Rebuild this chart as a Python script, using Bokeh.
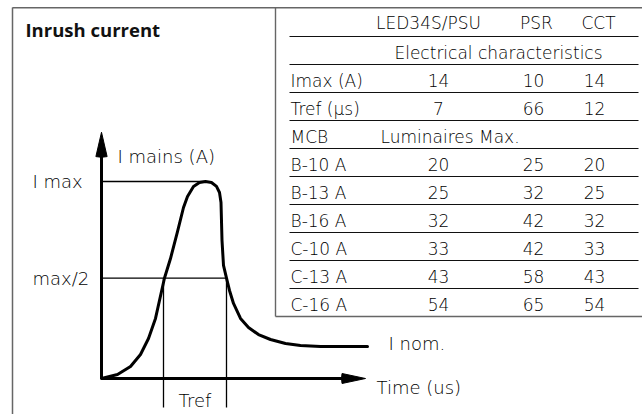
from bokeh.plotting import figure
from bokeh.models import Range1d, ColumnDataSource
from bokeh.core.properties import value
from bokeh.embed import file_html
from bokeh.resources import INLINE

# ---------------- data ----------------
title = "Inrush current"
products = ["LED34S/PSU", "PSR", "CCT"]
section_label = "Electrical characteristics"
imax_label = "Imax (A)"
tref_label = "Tref (µs)"
imax_a = [14, 10, 14]
tref_us = [7, 66, 12]
mcb_header = "MCB"
lum_header = "Luminaires Max."
mcb_types = ["B-10 A", "B-13 A", "B-16 A", "C-10 A", "C-13 A", "C-16 A"]
max_led34s_psu = [20, 25, 32, 33, 43, 54]
max_psr = [25, 32, 42, 42, 58, 65]
max_cct = [20, 25, 32, 33, 43, 54]

# schematic inrush curve (time in arbitrary us units, current relative to I max)
curve_time = [0, 1.6, 2.9, 3.9, 4.7, 5.4, 6.3, 6.9, 7.6, 8.2, 8.6, 9.2, 9.8, 10.4,
              11.0, 11.5, 11.8, 11.95, 12.05, 12.2, 12.5, 12.8, 13.2, 13.9, 14.7,
              15.7, 16.9, 18.4, 19.9, 21.9, 26.6]
curve_current = [0, 0.020, 0.061, 0.122, 0.203, 0.305, 0.51, 0.609, 0.746, 0.868,
                 0.924, 0.975, 0.995, 1.0, 0.995, 0.975, 0.944, 0.893, 0.701, 0.574,
                 0.51, 0.447, 0.381, 0.305, 0.259, 0.223, 0.198, 0.178, 0.168,
                 0.162, 0.162]
i_max_level = 1.0
half_level = 0.51
tref_start = 6.2
tref_end = 12.5
time_axis_end = 26.4
current_axis_end = 1.25

# ---------------- layout ----------------
W, H = 642, 414
ORIGIN_X, ORIGIN_Y = 101, 378
PX_T, PX_I = 10.0, 197.0

p = figure(width=W, height=H, x_range=Range1d(0, W), y_range=Range1d(H, 0),
           output_backend="svg", toolbar_location=None, min_border=0,
           x_axis_type=None, y_axis_type=None)
p.grid.visible = False
p.outline_line_color = None
p.background_fill_color = "white"
p.border_fill_color = "white"

p.extra_x_ranges = {"t": Range1d(-ORIGIN_X / PX_T, (W - ORIGIN_X) / PX_T)}
p.extra_y_ranges = {"i": Range1d((ORIGIN_Y - H) / PX_I, ORIGIN_Y / PX_I)}

TXT = value("'DejaVu Sans Light', 'DejaVu Sans'")
TCOL = "#000000"

# outer frame and table box
p.segment(x0=[12, 12], y0=[7.25, 7], x1=[W, 12], y1=[7.25, H],
          line_color="#666666", line_width=1.5)
p.segment(x0=[275, 275], y0=[7, 316], x1=[275, W], y1=[316, 316],
          line_color="#666666", line_width=1.4)

# table row separators
n_rows = 5 + len(mcb_types)
row_h = 28
first_line = 36
sep_y = [first_line + row_h * k for k in range(n_rows - 1)]
p.segment(x0=[289] * len(sep_y), y0=sep_y, x1=[638] * len(sep_y), y1=sep_y,
          line_color="#111111", line_width=1.2)


def mid(k):
    if k == 0:
        return 22
    return first_line + row_h * k - 12


label_x = 290
head_cx = [428, 536, 598]
val_cx = [438, 533, 594]

tx, ty, tt, ta = [], [], [], []


def add(x, y, t, a):
    tx.append(x); ty.append(y); tt.append(str(t)); ta.append(a)


for c, name in zip(head_cx, products):
    add(c, mid(0), name, "center")
add(498, mid(1), section_label, "center")
add(label_x, mid(2), imax_label, "left")
for c, v in zip(val_cx, imax_a):
    add(c, mid(2), v, "center")
add(label_x, mid(3), tref_label, "left")
for c, v in zip(val_cx, tref_us):
    add(c, mid(3), v, "center")
add(label_x, mid(4), mcb_header, "left")
add(380, mid(4), lum_header, "left")
for r, m in enumerate(mcb_types):
    k = 5 + r
    add(label_x, mid(k), m, "left")
    for c, v in zip(val_cx, [max_led34s_psu[r], max_psr[r], max_cct[r]]):
        add(c, mid(k), v, "center")

src = ColumnDataSource(dict(x=tx, y=ty, text=tt, align=ta))
p.text(x="x", y="y", text="text", text_align="align", source=src,
       text_font=TXT, text_font_size="17px", text_color=TCOL,
       text_baseline="middle")

# title
p.text(x=[25], y=[29], text=[title], text_font=value("Open Sans"),
       text_font_style="bold", text_font_size="18.5px", text_color="#111111",
       text_baseline="middle")

# ---------------- diagram ----------------
peak_idx = curve_current.index(max(curve_current))
peak_t = curve_time[peak_idx]

# thin reference lines
p.segment(x0=[0, 0], y0=[i_max_level, half_level], x1=[peak_t, tref_end],
          y1=[i_max_level, half_level], x_range_name="t", y_range_name="i",
          line_color="black", line_width=1.3)
low = (ORIGIN_Y - 407) / PX_I
p.segment(x0=[tref_start, tref_end], y0=[half_level, half_level],
          x1=[tref_start, tref_end], y1=[low, low], x_range_name="t", y_range_name="i",
          line_color="black", line_width=1.3)

# axes
p.segment(x0=[0, 0], y0=[0, 0], x1=[0, time_axis_end - 1.0], y1=[current_axis_end - 0.06, 0],
          x_range_name="t", y_range_name="i", line_color="black", line_width=3)
p.wedge(x=[0], y=[current_axis_end], radius=25, radius_units="screen",
        start_angle=270 - 13, end_angle=270 + 13,
        start_angle_units="deg", end_angle_units="deg",
        x_range_name="t", y_range_name="i", fill_color="black", line_color="black")
p.wedge(x=[time_axis_end], y=[0], radius=24, radius_units="screen",
        start_angle=180 - 12, end_angle=180 + 12,
        start_angle_units="deg", end_angle_units="deg",
        x_range_name="t", y_range_name="i", fill_color="black", line_color="black")

# curve
p.line(curve_time, curve_current, x_range_name="t", y_range_name="i",
       line_color="black", line_width=3, line_join="round", line_cap="round")

# diagram labels
p.text(x=[32, 32], y=[i_max_level, half_level], text=["I max", "max/2"],
       y_range_name="i", text_font=TXT, text_font_size="18px", text_color=TCOL,
       text_baseline="middle")
p.text(x=[117, 376, 388], y=[156, 387, 343], text=["I mains (A)", "Time (us)", "I nom."],
       text_font=TXT, text_font_size="18px", text_color=TCOL, text_baseline="middle")
p.text(x=[(tref_start + tref_end) / 2], y=[400], text=["Tref"], x_range_name="t",
       text_font=TXT, text_font_size="18px", text_color=TCOL, text_align="center",
       text_baseline="middle")

open("out.html", "w").write(file_html(p, INLINE))
